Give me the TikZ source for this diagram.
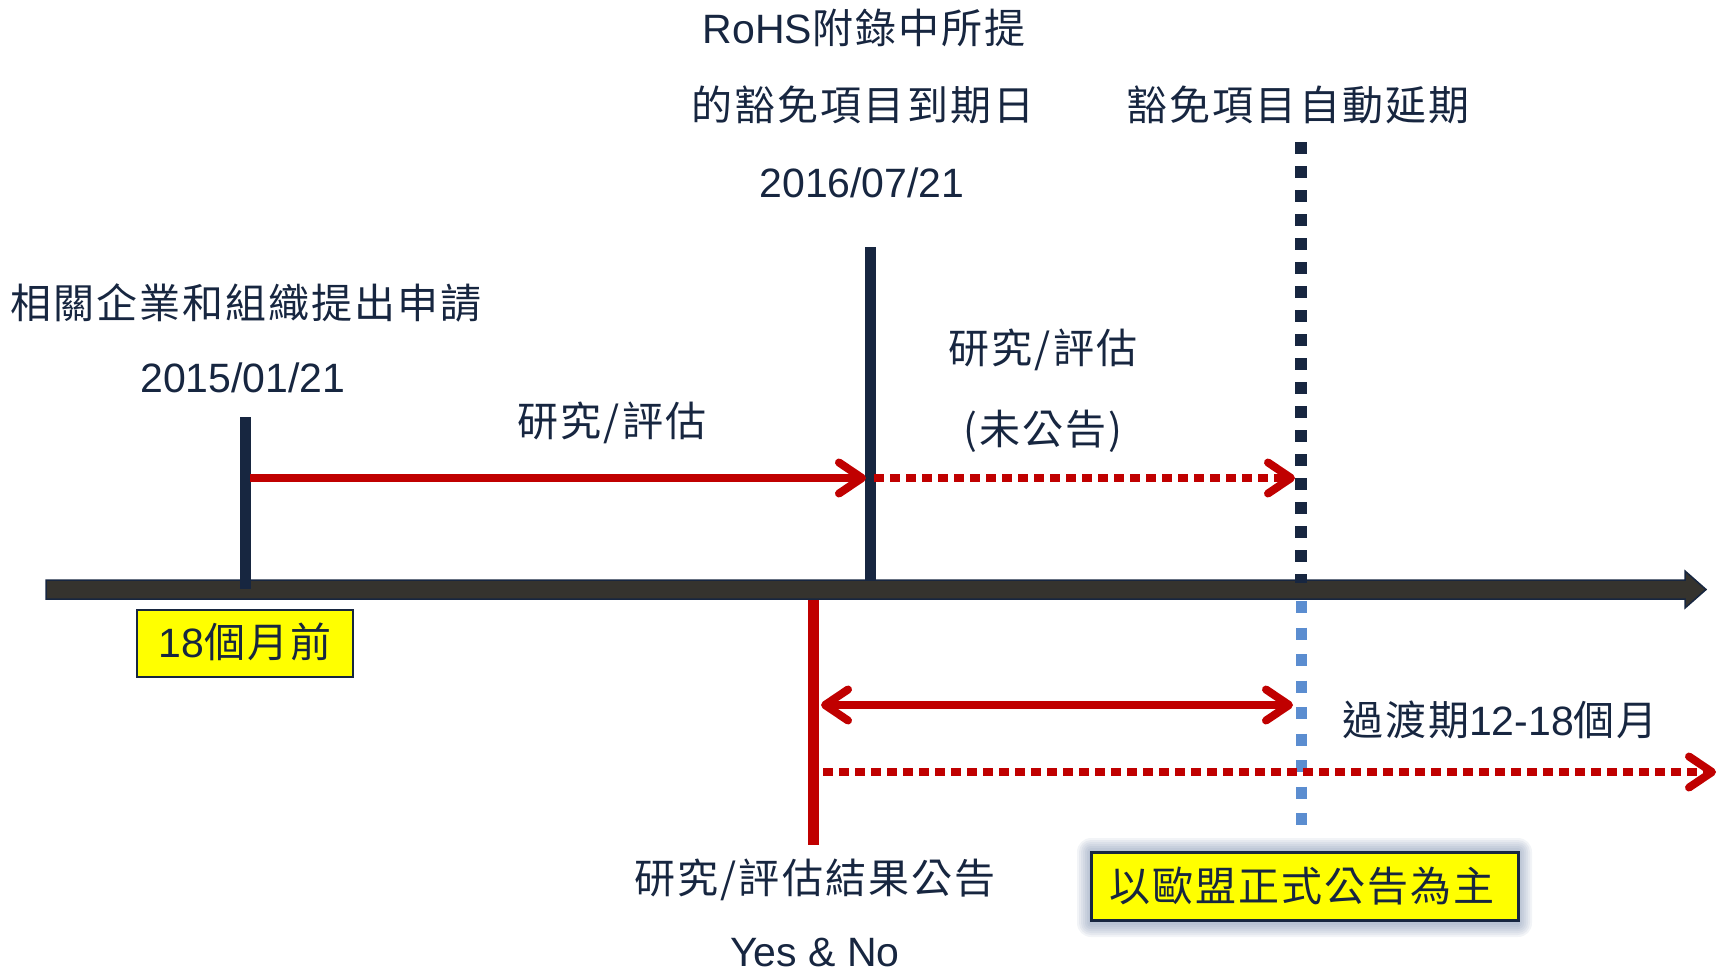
\documentclass[tikz,border=0pt]{standalone}
\usepackage{fontspec}
\setmainfont{Liberation Sans}
\newfontfamily\cjk[LetterSpace=5]{Noto Sans CJK TC}
\usetikzlibrary{arrows.meta}
\definecolor{navy}{RGB}{23,38,64}
\definecolor{axisgray}{RGB}{53,51,46}
\definecolor{myred}{RGB}{192,0,0}
\definecolor{myblue}{RGB}{91,141,208}
\definecolor{glow}{RGB}{110,130,165}
\definecolor{yel}{RGB}{255,255,0}
\begin{document}
\begin{tikzpicture}[x=1pt,y=-1pt,
  lbl/.style={text=navy,font=\fontsize{41}{49}\selectfont,inner sep=0pt,anchor=base},
  navyline/.style={draw=navy,line width=11pt},
  redline/.style={draw=myred,line width=8pt},
  chev/.tip={Straight Barb[length=23pt,width=31pt,round]},
  reddot/.style={redline,dash pattern=on 10pt off 6pt},
  ybox/.style={fill=yel,draw=navy,inner sep=0pt,anchor=center}
]
\useasboundingbox (0,0) rectangle (1720,975);

% coordinates
\coordinate (v1t) at (245,417); \coordinate (v1b) at (245,589);
\coordinate (v2t) at (870,247); \coordinate (v2b) at (870,581);
\coordinate (dt) at (1301,142); \coordinate (db) at (1301,583);
\coordinate (bt) at (1301,601); \coordinate (bb) at (1301,826);
\coordinate (rt) at (813,594);  \coordinate (rb) at (813,845);
\coordinate (a1s) at (250,478); \coordinate (a1e) at (866,478);
\coordinate (a2s) at (874,478); \coordinate (a2e) at (1295,478);
\coordinate (a3s) at (821,705); \coordinate (a3e) at (1293,705);
\coordinate (a4s) at (823,772); \coordinate (a4e) at (1716,772);

% red vertical (below axis)
\draw[draw=myred,line width=11pt] (rt) -- (rb);

% axis
\filldraw[fill=axisgray,draw=navy,line width=1.5pt]
  (46,580) -- (1685,580) -- (1685,571) -- (1706,589.5) -- (1685,608) -- (1685,599) -- (46,599) -- cycle;

% vertical lines
\draw[navyline] (v1t) -- (v1b);
\draw[navyline] (v2t) -- (v2b);
\draw[draw=navy,line width=12pt,dash pattern=on 12pt off 12pt] (dt) -- (db);
\draw[draw=myblue,line width=11pt,dash pattern=on 12pt off 14.5pt] (bt) -- (bb);

% arrows
\draw[redline,-chev] (a1s) -- (a1e);
\draw[reddot,-chev] (a2s) -- (a2e);
\draw[redline,chev-chev] (a3s) -- (a3e);
\draw[reddot,-chev] (a4s) -- (a4e);

% glow for rule box
\foreach \d in {2,4,...,14}
  \fill[glow,opacity=0.09,rounded corners=\d pt] (1091-\d,852-\d) rectangle (1518+\d,921+\d+2);

% boxes
\node[ybox,line width=2pt,minimum width=216pt,minimum height=67pt] (b18) at (245,643.5) {};
\node[ybox,line width=3pt,minimum width=427pt,minimum height=68pt] (rule) at (1304.5,886) {};

% labels
\node[lbl] (t1) at (864,43) {RoHS{\cjk 附錄中所提}};
\node[lbl] (t2) at (863,120) {{\cjk 的豁免項目到期日}};
\node[lbl] (t3) at (862,197) {2016/07/21};
\node[lbl] (t4) at (1298,120) {{\cjk 豁免項目自動延期}};
\node[lbl] (t5) at (246,318) {{\cjk 相關企業和組織提出申請}};
\node[lbl] (t6) at (243,392) {2015/01/21};
\node[lbl] (t7) at (612,436) {{\cjk 研究/評估}};
\node[lbl] (t8) at (1043,363) {{\cjk 研究/評估}};
\node[lbl] (t9) at (1043,444) {{\cjk (未公告)}};
\node[lbl] (t10) at (245,657) {18{\cjk 個月前}};
\node[lbl] (t11) at (1500,735) {{\cjk 過渡期}12-18{\cjk 個月}};
\node[lbl] (t12) at (815,893) {{\cjk 研究/評估結果公告}};
\node[lbl] (t13) at (815,966) {Yes \& No};
\node[lbl] (t14) at (1302,901) {{\cjk 以歐盟正式公告為主}};
\end{tikzpicture}
\end{document}
